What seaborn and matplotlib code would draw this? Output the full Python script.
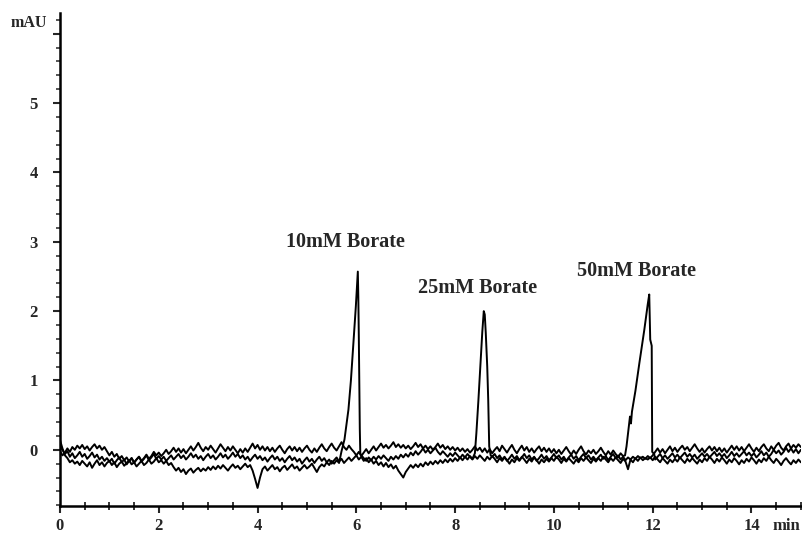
import numpy as np
import pandas as pd
import matplotlib
matplotlib.use("Agg")
import matplotlib.pyplot as plt
from matplotlib.ticker import MultipleLocator, FixedLocator
import matplotlib.transforms as mtransforms
import seaborn as sns

# Baseline sampling grid (min), one reading every 0.05 min
time = np.round(np.arange(0, 15.001, 0.05), 2)

# Detector baselines (mAU) for the three buffer runs
base_10mM = [
    0.14, 0.02, -0.08, -0.12, -0.18, -0.15, -0.2, -0.17, -0.22, -0.16, -0.2, -0.24, -0.18, -0.26, -0.2, -0.15, -0.22, -0.18, -0.24, -0.19,
    -0.16, -0.22, -0.18, -0.25, -0.2, -0.17, -0.23, -0.19, -0.15, -0.21, -0.18, -0.24, -0.2, -0.16, -0.22, -0.19, -0.14, -0.2, -0.17, -0.12,
    -0.18, -0.15, -0.2, -0.16, -0.22, -0.19, -0.25, -0.3, -0.26, -0.32, -0.28, -0.35, -0.3, -0.27, -0.33, -0.29, -0.26, -0.31, -0.27, -0.3,
    -0.25, -0.29, -0.24, -0.28, -0.23, -0.27, -0.22, -0.26, -0.3, -0.25, -0.21, -0.26, -0.23, -0.28, -0.24, -0.2, -0.25, -0.22, -0.3, -0.42,
    -0.55, -0.4, -0.28, -0.24, -0.3, -0.26, -0.22, -0.28, -0.25, -0.31, -0.26, -0.23, -0.29, -0.25, -0.21, -0.27, -0.24, -0.3, -0.26, -0.22,
    -0.27, -0.24, -0.2, -0.26, -0.32, -0.25, -0.21, -0.24, -0.18, -0.22, -0.16, -0.2, -0.15, -0.19, -0.14, -0.18, -0.13, -0.17, -0.12, -0.15,
    -0.1, -0.14, -0.08, -0.12, -0.16, -0.11, -0.15, -0.1, -0.14, -0.09, -0.13, -0.08, -0.12, -0.16, -0.1, -0.14, -0.09, -0.13, -0.07, -0.11,
    -0.06, -0.1, -0.04, -0.08, -0.02, -0.07, -0.03, 0.02, -0.04, 0.0, -0.05, -0.01, 0.03, -0.03, -0.07, -0.02, -0.06, -0.1, -0.05, -0.09,
    -0.04, -0.08, -0.12, -0.07, -0.11, -0.06, -0.1, -0.14, -0.09, -0.13, -0.08, -0.12, -0.16, -0.1, -0.14, -0.09, -0.13, -0.18, -0.12, -0.16,
    -0.11, -0.15, -0.2, -0.14, -0.18, -0.12, -0.16, -0.1, -0.14, -0.19, -0.13, -0.17, -0.11, -0.15, -0.2, -0.14, -0.18, -0.13, -0.17, -0.12,
    -0.16, -0.1, -0.14, -0.19, -0.13, -0.17, -0.12, -0.16, -0.2, -0.14, -0.18, -0.12, -0.16, -0.11, -0.15, -0.19, -0.13, -0.17, -0.12, -0.16,
    -0.1, -0.14, -0.18, -0.12, -0.16, -0.11, -0.15, -0.19, -0.13, -0.17, -0.28, -0.14, -0.18, -0.12, -0.16, -0.11, -0.15, -0.12, -0.14, -0.11,
    -0.15, -0.1, -0.14, -0.18, -0.12, -0.16, -0.2, -0.14, -0.18, -0.13, -0.17, -0.11, -0.15, -0.19, -0.13, -0.17, -0.12, -0.16, -0.2, -0.14,
    -0.18, -0.12, -0.16, -0.1, -0.14, -0.19, -0.13, -0.17, -0.11, -0.15, -0.2, -0.14, -0.18, -0.12, -0.16, -0.21, -0.15, -0.19, -0.13, -0.17,
    -0.11, -0.15, -0.2, -0.14, -0.18, -0.12, -0.16, -0.1, -0.15, -0.19, -0.13, -0.17, -0.22, -0.16, -0.12, -0.17, -0.21, -0.15, -0.19, -0.14,
    -0.18,
]

base_25mM = [
    0.05, 0.0, -0.06, -0.02, -0.1, -0.05, -0.12, -0.08, -0.03, -0.1, -0.06, -0.13, -0.09, -0.04, -0.11, -0.07, -0.14, -0.1, -0.16, -0.12,
    -0.17, -0.13, -0.2, -0.15, -0.11, -0.18, -0.14, -0.21, -0.16, -0.12, -0.19, -0.14, -0.1, -0.17, -0.13, -0.08, -0.15, -0.11, -0.06, -0.13,
    -0.09, -0.14, -0.1, -0.16, -0.12, -0.08, -0.14, -0.1, -0.06, -0.12, -0.08, -0.14, -0.1, -0.05, -0.11, -0.07, -0.13, -0.09, -0.15, -0.1,
    -0.06, -0.12, -0.08, -0.14, -0.1, -0.05, -0.11, -0.07, -0.13, -0.09, -0.04, -0.1, -0.06, -0.12, -0.08, -0.14, -0.1, -0.16, -0.11, -0.07,
    -0.13, -0.09, -0.15, -0.11, -0.17, -0.12, -0.08, -0.14, -0.1, -0.16, -0.12, -0.18, -0.13, -0.09, -0.15, -0.11, -0.17, -0.13, -0.2, -0.15,
    -0.11, -0.17, -0.13, -0.19, -0.14, -0.1, -0.16, -0.12, -0.18, -0.14, -0.2, -0.15, -0.11, -0.17, -0.13, -0.19, -0.15, -0.11, -0.16, -0.12,
    -0.08, -0.14, -0.1, -0.16, -0.12, -0.18, -0.14, -0.2, -0.16, -0.22, -0.18, -0.24, -0.19, -0.25, -0.21, -0.27, -0.23, -0.3, -0.35, -0.4,
    -0.32, -0.27, -0.22, -0.26, -0.21, -0.25, -0.2, -0.24, -0.18, -0.22, -0.17, -0.21, -0.16, -0.2, -0.15, -0.19, -0.14, -0.18, -0.13, -0.17,
    -0.12, -0.16, -0.11, -0.15, -0.1, -0.14, -0.09, -0.13, -0.08, -0.12, -0.07, -0.11, -0.06, -0.1, -0.05, -0.1, -0.06, -0.12, -0.08, -0.14,
    -0.1, -0.16, -0.12, -0.07, -0.13, -0.09, -0.15, -0.11, -0.06, -0.12, -0.08, -0.14, -0.1, -0.16, -0.12, -0.07, -0.13, -0.09, -0.15, -0.11,
    -0.06, -0.12, -0.08, -0.14, -0.1, -0.16, -0.11, -0.07, -0.13, -0.09, -0.15, -0.1, -0.06, -0.12, -0.08, -0.14, -0.1, -0.15, -0.11, -0.07,
    -0.13, -0.09, -0.15, -0.1, -0.06, -0.12, -0.08, -0.14, -0.1, -0.15, -0.11, -0.14, -0.1, -0.13, -0.09, -0.12, -0.1, -0.13, -0.09, -0.12,
    -0.08, -0.03, 0.02, -0.04, 0.01, -0.05, 0.0, 0.05, -0.02, 0.03, -0.03, 0.02, 0.06, 0.0, 0.04, -0.02, 0.03, 0.08, 0.02, -0.03,
    0.02, -0.04, 0.01, 0.05, -0.01, 0.04, -0.02, 0.03, -0.03, 0.02, -0.04, 0.01, 0.06, 0.0, 0.05, -0.01, 0.04, -0.02, 0.03, 0.08,
    0.02, -0.03, 0.03, -0.02, 0.04, 0.08, 0.02, -0.02, 0.05, 0.0, 0.06, 0.1, 0.03, -0.01, 0.05, 0.09, 0.02, 0.07, 0.03, 0.08,
    0.04,
]

base_50mM = [
    -0.02, -0.08, -0.04, 0.02, -0.03, 0.04, 0.0, 0.06, 0.02, 0.07, 0.01, 0.05, -0.01, 0.04, 0.08, 0.02, 0.06, 0.0, 0.04, -0.02,
    -0.08, -0.03, -0.1, -0.06, -0.13, -0.09, -0.15, -0.11, -0.17, -0.12, -0.18, -0.14, -0.1, -0.16, -0.12, -0.07, -0.13, -0.09, -0.03, -0.08,
    -0.04, -0.09, -0.05, 0.0, -0.06, -0.02, 0.03, -0.03, 0.02, -0.04, 0.01, -0.05, 0.0, 0.05, -0.01, 0.04, 0.1, 0.03, -0.02, 0.04,
    0.0, 0.06, 0.01, -0.04, 0.02, 0.08, 0.03, -0.02, 0.04, -0.01, 0.05, 0.0, -0.05, 0.01, -0.04, 0.02, -0.03, 0.03, 0.09, 0.02,
    0.07, 0.0, 0.05, -0.01, 0.04, -0.02, 0.03, -0.03, 0.02, 0.06, 0.0, -0.05, 0.01, 0.05, -0.01, 0.04, -0.02, 0.03, -0.03, 0.02,
    0.06, 0.0, -0.04, 0.02, -0.03, 0.03, 0.08, 0.02, -0.02, 0.04, 0.09, 0.03, -0.01, 0.05, 0.11, 0.04, 0.0, 0.06, 0.01, -0.03,
    -0.08, -0.03, -0.09, -0.04, 0.01, -0.05, 0.0, 0.05, -0.01, 0.04, 0.09, 0.03, 0.07, 0.02, 0.06, 0.11, 0.04, 0.08, 0.03, 0.07,
    0.02, 0.06, 0.01, 0.05, 0.1, 0.04, 0.08, 0.02, 0.06, 0.01, 0.05, 0.0, 0.04, 0.09, 0.03, 0.07, 0.01, 0.05, 0.0, 0.04,
    -0.01, 0.03, -0.02, 0.02, -0.03, 0.01, -0.04, 0.0, 0.05, -0.01, 0.03, -0.03, 0.02, -0.04, 0.01, -0.05, 0.0, 0.04, -0.02, 0.06,
    0.01, -0.04, 0.02, 0.07, 0.0, -0.05, 0.01, 0.06, -0.01, 0.04, -0.03, 0.02, -0.04, 0.01, 0.05, -0.02, 0.03, -0.03, 0.02, -0.04,
    0.01, -0.05, 0.0, -0.06, -0.01, 0.04, -0.02, -0.07, -0.01, -0.06, 0.0, 0.05, -0.02, -0.07, -0.01, -0.05, 0.0, -0.06, -0.02, 0.03,
    -0.03, -0.08, -0.02, -0.07, -0.01, -0.06, -0.11, -0.05, -0.09, -0.04, -0.08, -0.12, -0.09, -0.13, -0.1, -0.12, -0.09, -0.12, -0.1, -0.13,
    -0.09, -0.14, -0.1, -0.06, -0.12, -0.08, -0.13, -0.09, -0.05, -0.11, -0.07, -0.12, -0.08, -0.04, -0.1, -0.06, -0.11, -0.07, -0.13, -0.09,
    -0.05, -0.1, -0.06, -0.11, -0.07, -0.03, -0.09, -0.05, -0.1, -0.06, -0.12, -0.08, -0.03, -0.09, -0.05, -0.1, -0.06, -0.02, -0.08, -0.04,
    -0.09, -0.05, -0.11, -0.07, -0.02, -0.08, -0.04, -0.1, -0.06, 0.0, -0.05, -0.01, -0.07, -0.03, 0.03, -0.03, 0.02, -0.04, 0.01, -0.05,
    0.0,
]

# Analyte peaks (time in min, absorbance in mAU)
peak_10mM_t = [5.70, 5.76, 5.84, 5.89, 5.94, 5.99, 6.02, 6.03, 6.04, 6.05, 6.07, 6.08]
peak_10mM_v = [-0.02, 0.15, 0.58, 1.0, 1.54, 2.07, 2.45, 2.57, 2.2, 1.63, 0.3, -0.05]

peak_25mM_t = [8.40, 8.43, 8.47, 8.51, 8.55, 8.58, 8.60, 8.62, 8.65, 8.67, 8.69, 8.72]
peak_25mM_v = [-0.05, 0.24, 0.7, 1.2, 1.7, 2.0, 1.95, 1.69, 1.2, 0.72, 0.05, -0.08]

peak_50mM_t = [11.44, 11.47, 11.52, 11.54, 11.56, 11.58, 11.65, 11.73, 11.83, 11.90, 11.93, 11.95, 11.98, 11.99, 12.03]
peak_50mM_v = [-0.08, 0.05, 0.35, 0.48, 0.38, 0.55, 0.85, 1.25, 1.73, 2.1, 2.24, 1.59, 1.5, -0.03, -0.06]

runs = ["10mM Borate", "25mM Borate", "50mM Borate"]
label_x = [5.78, 8.46, 11.68]
label_y = [3.0, 2.34, 2.58]


def build_trace(name, base, pk_t, pk_v):
    base_df = pd.DataFrame({"time": time, "mAU": base})
    keep = (base_df["time"] < pk_t[0]) | (base_df["time"] > pk_t[-1])
    pk_df = pd.DataFrame({"time": pk_t, "mAU": pk_v})
    out = pd.concat([base_df[keep], pk_df]).sort_values("time")
    out["run"] = name
    return out


df = pd.concat([
    build_trace(runs[0], base_10mM, peak_10mM_t, peak_10mM_v),
    build_trace(runs[1], base_25mM, peak_25mM_t, peak_25mM_v),
    build_trace(runs[2], base_50mM, peak_50mM_t, peak_50mM_v),
], ignore_index=True)

sns.set_style("white")
plt.rcParams["font.family"] = ["Liberation Serif", "DejaVu Serif"]
plt.rcParams["font.weight"] = "bold"

fig = plt.figure(figsize=(8.02, 5.33), dpi=100)
ax = fig.add_axes([0.0748, 0.0507, 0.9238, 0.925])

sns.lineplot(data=df, x="time", y="mAU", hue="run", units="run",
             estimator=None, sort=False, palette=["black"] * 3,
             linewidth=1.4, legend=False, ax=ax)

ax.set_xlim(0, 15)
ax.set_ylim(-0.81, 6.3)

for s in ["top", "right"]:
    ax.spines[s].set_visible(False)
for s in ["left", "bottom"]:
    ax.spines[s].set_linewidth(1.8)
    ax.spines[s].set_color("black")

ax.xaxis.set_major_locator(FixedLocator([0, 2, 4, 6, 8, 10, 12, 14]))
ax.xaxis.set_minor_locator(MultipleLocator(0.5))
ax.yaxis.set_major_locator(FixedLocator([0, 1, 2, 3, 4, 5, 6]))
ax.yaxis.set_minor_locator(MultipleLocator(0.2))
ax.set_yticklabels(["0", "1", "2", "3", "4", "5", ""])

ax.tick_params(axis="x", which="major", direction="out", length=5, width=1.5,
               pad=3.5, labelsize=12)
ax.tick_params(axis="x", which="minor", direction="inout", length=6, width=1.3)
ax.tick_params(axis="y", which="major", direction="out", length=5, width=1.5,
               pad=11, labelsize=12)
ax.tick_params(axis="y", which="minor", direction="out", length=3, width=1.1)
ax.tick_params(left=True, bottom=True, which="both")
for lab in ax.get_xticklabels() + ax.get_yticklabels():
    lab.set_fontweight("bold")

ax.set_xlabel("")
ax.set_ylabel("")

ax.text(-0.018, 6.15, "mAU", transform=ax.get_yaxis_transform(),
        ha="right", va="center", fontsize=11.5, fontweight="bold")
ax.text(14.42, -0.81, "min", ha="left", va="top", fontsize=12,
        fontweight="bold", clip_on=False,
        transform=ax.transData + mtransforms.ScaledTranslation(0, -8.5 / 72, fig.dpi_scale_trans))

for name, lx, ly in zip(runs, label_x, label_y):
    ax.text(lx, ly, name, ha="center", va="center", fontsize=14.5,
            fontweight="bold")

fig.savefig("out.png", dpi=100)
